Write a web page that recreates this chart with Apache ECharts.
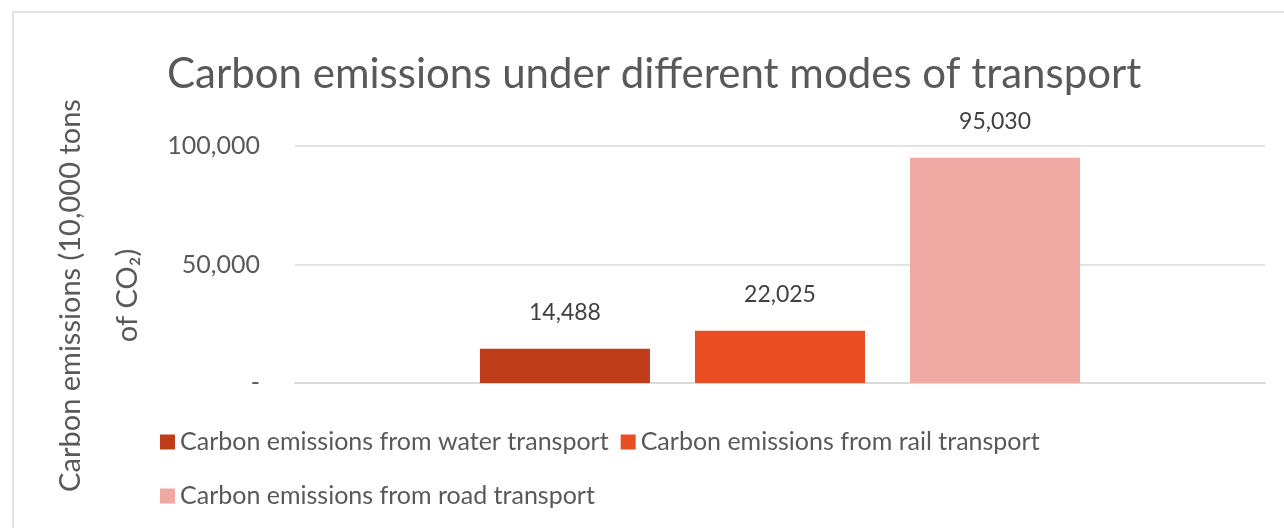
<!DOCTYPE html>
<html>
<head>
<meta charset="utf-8">
<script src="https://cdn.jsdelivr.net/npm/echarts@6/dist/echarts.min.js"></script>
<style>
  html, body { margin: 0; padding: 0; background: #fff; }
  #main { width: 1284px; height: 528px; }
</style>
</head>
<body>
<div id="main"></div>
<script>
// data
var categories = [""];
var seriesNames = [
  "Carbon emissions from water transport",
  "Carbon emissions from rail transport",
  "Carbon emissions from road transport"
];
var waterValues = [14488];
var railValues = [22025];
var roadValues = [95030];
var colors = ["#BF3D1A", "#E84D24", "#EFA8A2"];

var FONT = "Lato";
var myChart = echarts.init(document.getElementById("main"));

function fmt(v) {
  if (v === 0) return "-";
  return v.toString().replace(/\B(?=(\d{3})+(?!\d))/g, ",");
}

var valueLists = [waterValues, railValues, roadValues];
var series = seriesNames.map(function (name, i) {
  return {
    name: name,
    type: "bar",
    data: valueLists[i],
    barWidth: 170,
    barGap: "26.5%",
    itemStyle: { color: colors[i] },
    label: {
      show: true,
      position: "top",
      distance: 25,
      color: "#404040",
      fontFamily: FONT,
      fontSize: 23,
      formatter: function (p) { return fmt(p.value); }
    }
  };
});

var option = {
  animation: false,
  backgroundColor: "#fff",
  textStyle: { fontFamily: FONT },
  title: {
    text: "Carbon emissions under different modes of transport",
    left: 162,
    top: 48,
    textStyle: { color: "#595959", fontSize: 42, fontWeight: "normal", fontFamily: FONT }
  },
  graphic: [{
    type: "rect",
    shape: { x: 13, y: 12, width: 1400, height: 700 },
    style: { fill: "none", stroke: "#d9d9d9", lineWidth: 1.5 },
    silent: true
  }],
  legend: {
    data: seriesNames,
    left: 155,
    top: 416,
    width: 1050,
    itemWidth: 15,
    itemHeight: 15,
    itemGap: 12,
    icon: "rect",
    textStyle: { color: "#595959", fontSize: 25, fontFamily: FONT, lineHeight: 42 }
  },
  grid: { left: 295, right: 19, top: 146, bottom: 145, containLabel: false, outerBoundsMode: "none" },
  xAxis: {
    type: "category",
    data: categories,
    axisTick: { show: false },
    axisLabel: { show: false },
    axisLine: { lineStyle: { color: "#d9d9d9", width: 1.5 } }
  },
  yAxis: {
    type: "value",
    min: 0,
    max: 100000,
    interval: 50000,
    name: "Carbon emissions (10,000 tons\nof CO₂)",
    nameLocation: "middle",
    nameRotate: 90,
    nameGap: 126,
    nameTextStyle: {
      color: "#595959", fontSize: 29, fontFamily: FONT, lineHeight: 57, align: "center",
      padding: [0, 62, 0, 0]
    },
    axisLabel: {
      color: "#595959",
      fontSize: 25,
      fontFamily: FONT,
      margin: 35,
      formatter: fmt
    },
    splitLine: { lineStyle: { color: "#d9d9d9", width: 1.5 } }
  },
  series: series
};
myChart.setOption(option);
</script>
</body>
</html>
